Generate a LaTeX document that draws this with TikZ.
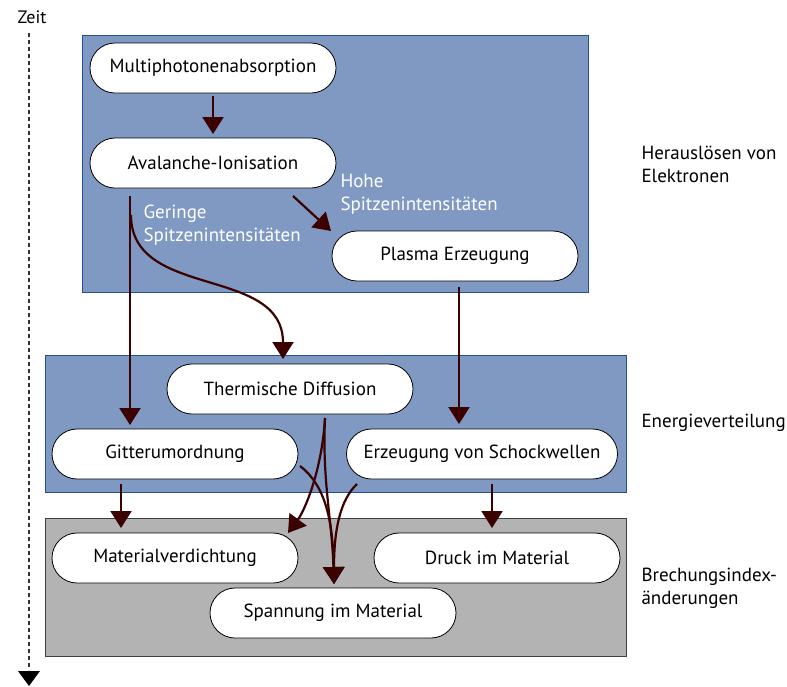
\documentclass[tikz,border=0pt]{standalone}
\usepackage{fontspec}
\setmainfont{PT Sans}
\usetikzlibrary{arrows.meta}
\definecolor{bluefill}{HTML}{7F99C3}
\definecolor{blueline}{HTML}{1F4E9A}
\definecolor{grayfill}{HTML}{B3B3B3}
\definecolor{grayline}{HTML}{404040}
\definecolor{arr}{HTML}{3B0000}
\tikzset{
  pill/.style={draw=black, fill=white, line width=0.8pt, rounded corners=25pt,
    minimum width=246pt, minimum height=50pt, inner sep=0pt,
    font=\fontsize{19}{22}\selectfont},
  group/.style={line width=1pt},
  flow/.style={draw=arr, line width=2.2pt, -{Triangle[width=21pt,length=17pt]}},
  sidelabel/.style={anchor=west, align=left, font=\fontsize{19}{23}\selectfont},
  wlabel/.style={anchor=west, align=left, text=white, font=\fontsize{19}{23.5}\selectfont},
}
\begin{document}
\begin{tikzpicture}[x=1pt,y=-1pt]
\useasboundingbox (0,0) rectangle (787,686);
% group boxes
\draw[group, fill=bluefill, draw=blueline] (82,35) rectangle (588,292);
\draw[group, fill=bluefill, draw=blueline] (45,355) rectangle (626,492);
\draw[group, fill=grayfill, draw=grayline] (45,518) rectangle (626,656);
% time axis
\node[font=\fontsize{18}{20}\selectfont] (zeit) at (32,17) {Zeit};
\coordinate (zs) at (29,33);
\coordinate (ze) at (29,686);
\draw[gray!40!black, line width=2.5pt, dash pattern=on 4pt off 3pt] (zs) -- (29,670);
\fill[black] (18,671) -- (40,671) -- (ze) -- cycle;
% nodes
\node[pill] (mpa) at (213,68) {Multiphotonenabsorption};
\node[pill] (ava) at (213,163) {Avalanche-Ionisation};
\node[pill] (pla) at (455,256) {Plasma Erzeugung};
\node[pill] (thd) at (290,389) {Thermische Diffusion};
\node[pill] (git) at (175,454) {Gitterumordnung};
\node[pill, minimum width=271pt] (sch) at (482,454) {Erzeugung von Schockwellen};
\node[pill] (mat) at (175,558) {Materialverdichtung};
\node[pill] (dru) at (497,558) {Druck im Material};
\node[pill] (spa) at (333,613) {Spannung im Material};
% labels
\node[sidelabel] (l1) at (638,164) {Herauslösen von\\Elektronen};
\node[sidelabel] (l2) at (638,423) {Energieverteilung};
\node[sidelabel] (l3) at (638,588) {Brechungsindex-\\änderungen};
\node[wlabel] (geringe) at (140,225) {Geringe\\Spitzenintensitäten};
\node[wlabel] (hohe) at (337,194) {Hohe\\Spitzenintensitäten};
% arrow coordinates
\coordinate (a1s) at (213,96);
\coordinate (a1e) at (213,134);
\coordinate (a2s) at (130,196);
\coordinate (a2e) at (130,425);
\coordinate (a3s) at (131,215);
\coordinate (a3e) at (283,359);
\coordinate (a4s) at (293,196);
\coordinate (a4e) at (331,231);
\coordinate (a5s) at (459,287);
\coordinate (a5e) at (459,424);
\coordinate (t1) at (325,418);
\coordinate (spt) at (334,584);
\coordinate (mtt) at (288,533);
\coordinate (g1) at (300,466);
\coordinate (s1) at (357,484);
\coordinate (a8s) at (121,484);
\coordinate (a8e) at (121,528);
\coordinate (a9s) at (492,484);
\coordinate (a9e) at (492,528);
% arrows
\draw[flow] (a1s) -- (a1e);
\draw[flow] (a2s) -- (a2e);
\draw[flow] (a3s) .. controls (131,300) and (283,265) .. (a3e);
\draw[flow] (a4s) -- (a4e);
\draw[flow] (a5s) -- (a5e);
\draw[flow] (t1) .. controls (322,480) and (332,520) .. (spt);
\draw[flow] (t1) .. controls (322,470) and (305,510) .. (mtt);
\draw[flow] (g1) .. controls (325,485) and (333,520) .. (spt);
\draw[flow] (s1) .. controls (340,500) and (334,530) .. (spt);
\draw[flow] (a8s) -- (a8e);
\draw[flow] (a9s) -- (a9e);
\end{tikzpicture}
\end{document}
